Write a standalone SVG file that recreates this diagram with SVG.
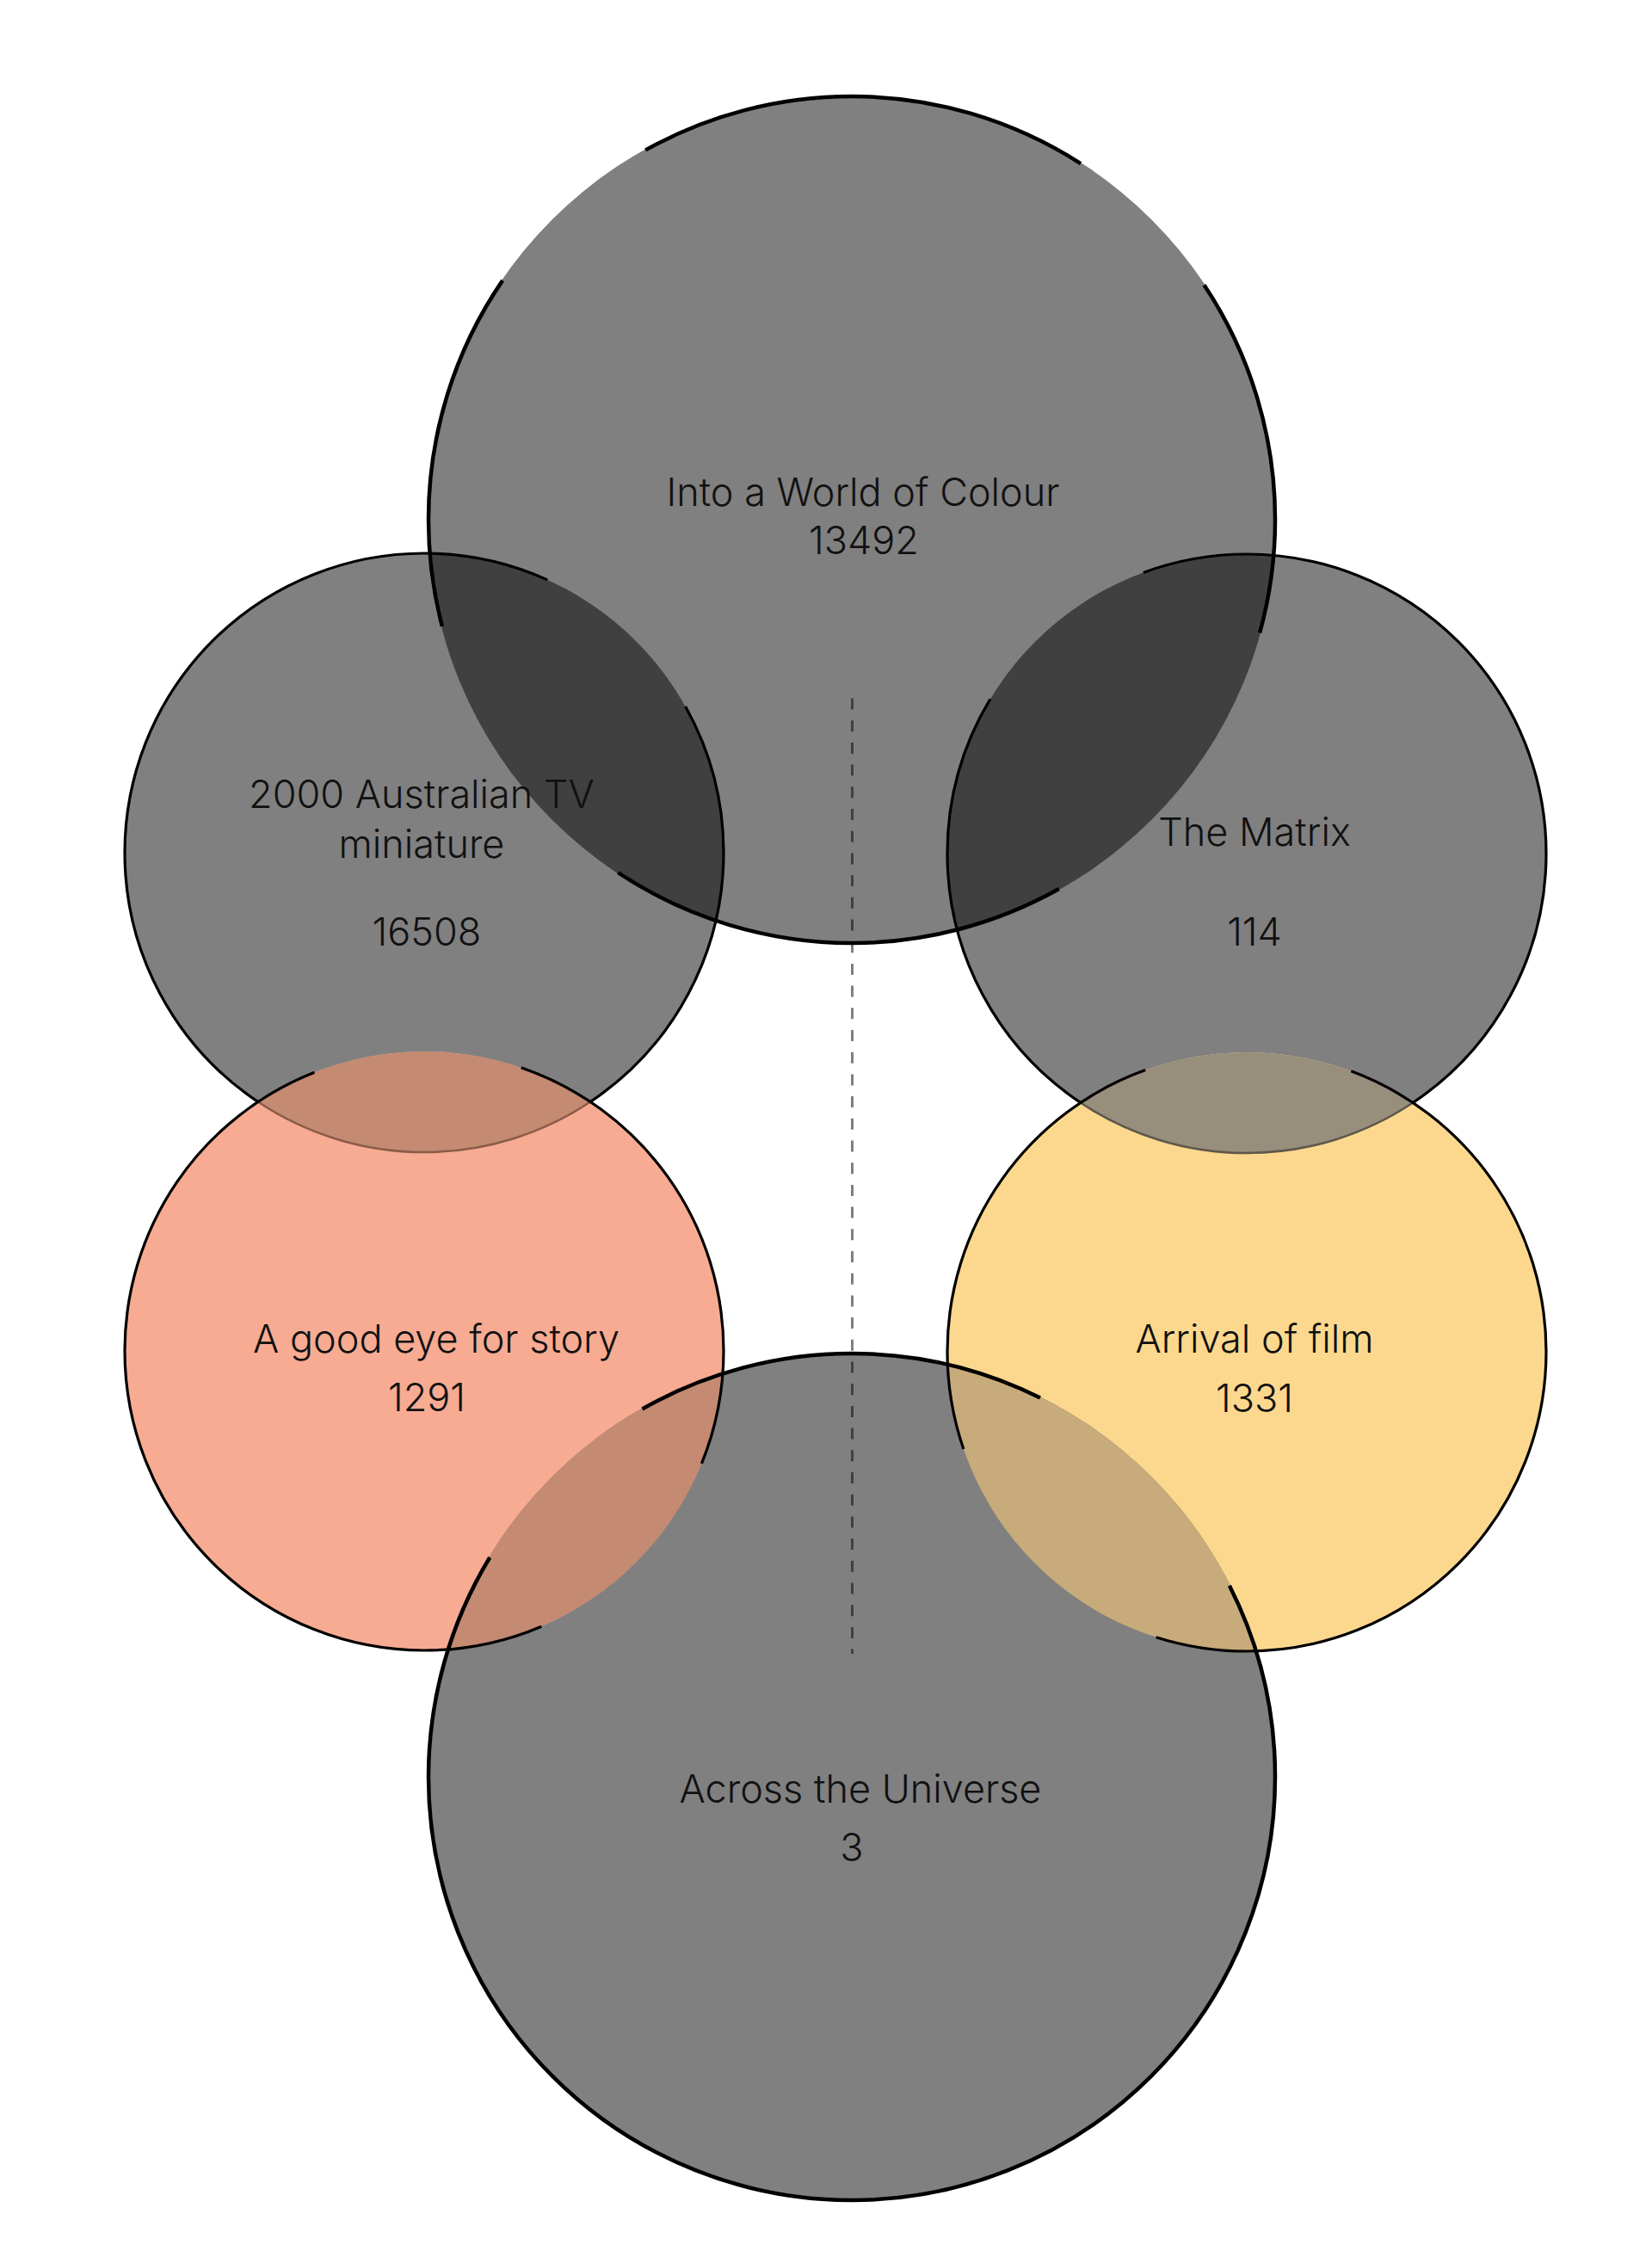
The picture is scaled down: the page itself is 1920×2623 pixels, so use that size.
<svg xmlns="http://www.w3.org/2000/svg" width="1920" height="2623" viewBox="0 0 1920 2623">
  <style>
    .lbl { font-family: Inter, "Liberation Sans", Arial, sans-serif; font-size: 45px; font-weight: 300; fill: #111111; text-anchor: middle; }
    .edge { fill: none; stroke: #000000; }
    .big { stroke-width: 4.5; }
    .small { stroke-width: 3.2; }
    .gray { fill: #808080; }
    .dark { fill: #404040; }
  </style>
  <defs>
    <clipPath id="clipT"><circle cx="990" cy="604" r="493"/></clipPath>
    <clipPath id="clipA"><circle cx="493" cy="991" r="348"/></clipPath>
    <clipPath id="clipM"><circle cx="1449" cy="992" r="348"/></clipPath>
    <clipPath id="clipS"><circle cx="493" cy="1570" r="348"/></clipPath>
    <clipPath id="clipY"><circle cx="1449" cy="1571" r="348"/></clipPath>
    <clipPath id="clipB"><circle cx="990" cy="2065" r="493"/></clipPath>
  </defs>

  <rect x="0" y="0" width="1920" height="2623" fill="#ffffff"/>

  <!-- region fills -->
  <g id="fills">
    <circle class="gray" cx="990" cy="604" r="493"/>
    <circle class="gray" cx="493" cy="991" r="348"/>
    <circle class="gray" cx="1449" cy="992" r="348"/>
    <circle cx="493" cy="1570" r="348" fill="#f7ab92"/>
    <circle cx="1449" cy="1571" r="348" fill="#fcd88e"/>
    <circle class="gray" cx="990" cy="2065" r="493"/>
  </g>

  <!-- overlap regions -->
  <g id="overlaps">
    <circle class="dark" cx="493" cy="991" r="348" clip-path="url(#clipT)"/>
    <circle class="dark" cx="1449" cy="992" r="348" clip-path="url(#clipT)"/>
    <circle cx="493" cy="1570" r="348" fill="#c48a72" clip-path="url(#clipA)"/>
    <circle cx="1449" cy="1571" r="348" fill="#978e7c" clip-path="url(#clipM)"/>
    <circle cx="493" cy="1570" r="348" fill="#c48a72" clip-path="url(#clipB)"/>
    <circle cx="1449" cy="1571" r="348" fill="#c7ab7a" clip-path="url(#clipB)"/>
  </g>

  <!-- edges seen through the lower circles -->
  <g id="hidden-edges">
    <path d="M 686.1 1280.5 A 348 348 0 0 1 299.9 1280.5" fill="none" stroke="#8a5c48" stroke-width="2.6"/>
    <path d="M 1642.1 1281.5 A 348 348 0 0 1 1255.9 1281.5" fill="none" stroke="#5e574b" stroke-width="2.6"/>
  </g>

  <g id="connectors">
    <line x1="990.5" y1="811.5" x2="990.5" y2="1922" stroke="#000000" stroke-opacity="0.5" stroke-width="3" stroke-dasharray="13 12.7"/>
  </g>

  <g id="node-into-a-world-of-colour">
    <circle class="edge big" cx="990" cy="604" r="492" stroke-dasharray="133.1 388.1 539.3 359.8 420.8 226.7 531.5 202.7 289.4 0"/>
    <text class="lbl" x="1003" y="588">Into a World of Colour</text>
    <text class="lbl" x="1004" y="644">13492</text>
  </g>

  <g id="node-2000-australian-tv-miniature">
    <circle class="edge small" cx="493" cy="991" r="348" stroke-dasharray="341.9 409.4 1035.6 221.1 178.6 0"/>
    <text class="lbl" x="490" y="939">2000 Australian TV</text>
    <text class="lbl" x="490" y="997">miniature</text>
    <text class="lbl" x="496" y="1099">16508</text>
  </g>

  <g id="node-the-matrix">
    <circle class="edge small" cx="1449" cy="992" r="348" stroke-dasharray="341.9 409.4 530.2 235.1 669.9 0"/>
    <text class="lbl" x="1458" y="983">The Matrix</text>
    <text class="lbl" x="1458" y="1099">114</text>
  </g>

  <g id="node-a-good-eye-for-story">
    <circle class="edge small" cx="493" cy="1570" r="348" stroke-dasharray="134.2 272.1 1102.4 245.4 432.4 0"/>
    <text class="lbl" x="507" y="1572">A good eye for story</text>
    <text class="lbl" x="496" y="1640">1291</text>
  </g>

  <g id="node-arrival-of-film">
    <circle class="edge small" cx="1449" cy="1571" r="348" stroke-dasharray="653.5 324.3 541.2 244.2 423.3 0"/>
    <text class="lbl" x="1458" y="1572">Arrival of film</text>
    <text class="lbl" x="1458" y="1641">1331</text>
  </g>

  <g id="node-across-the-universe">
    <circle class="edge big" cx="990" cy="2065" r="492" stroke-dasharray="1813.6 249.9 481.7 315.1 231.0 0"/>
    <text class="lbl" x="1000" y="2095">Across the Universe</text>
    <text class="lbl" x="990" y="2163">3</text>
  </g>
</svg>
